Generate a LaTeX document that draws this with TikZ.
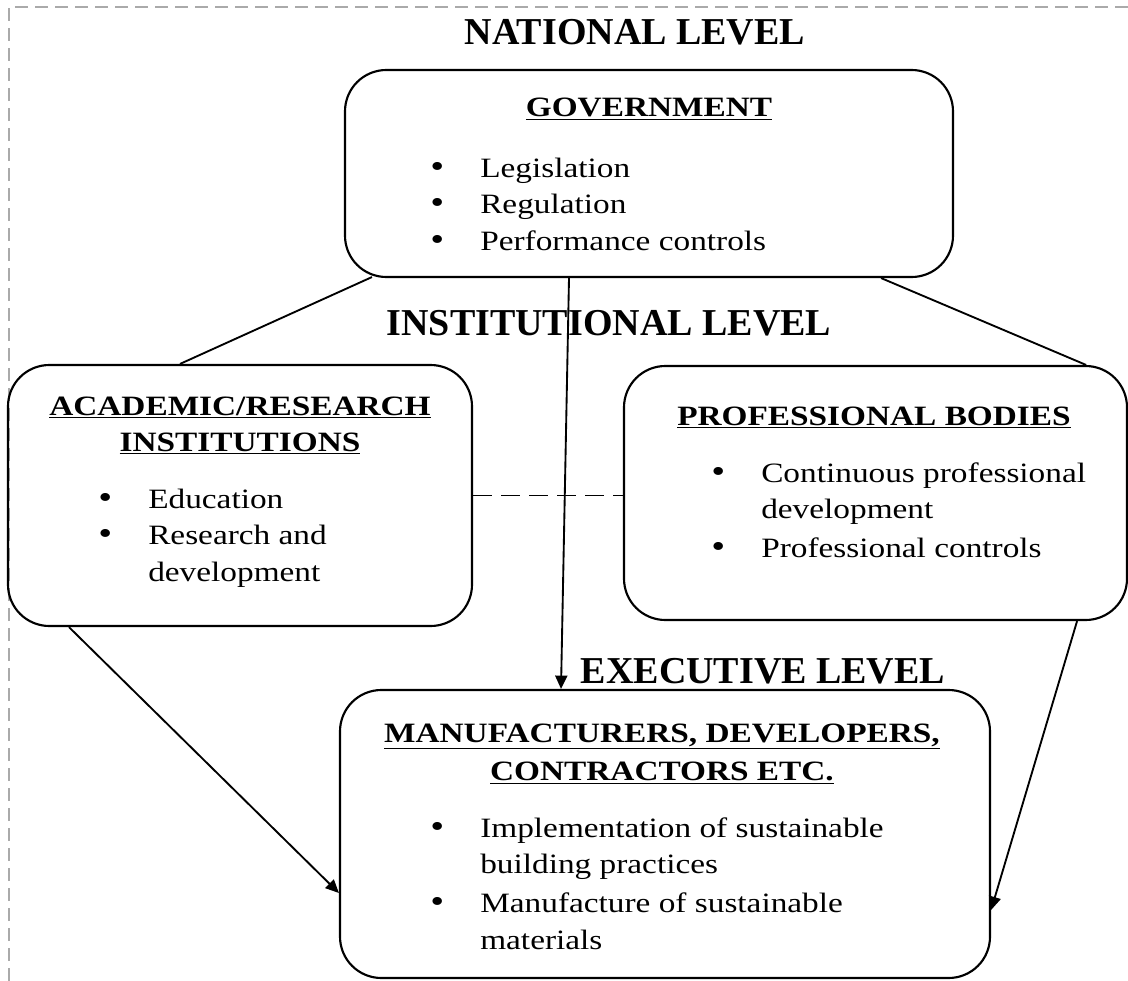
\documentclass[tikz,border=0pt]{standalone}
\usepackage{fontspec}
\setmainfont{Liberation Serif}
\newfontfamily\boxfont{Liberation Serif}[FakeStretch=1.19]
\usetikzlibrary{arrows.meta,calc}

\definecolor{framegray}{HTML}{AAAAAA}
\newcommand{\blt}{{\fontsize{25}{27}\selectfont\textbullet}}

\begin{document}
\begin{tikzpicture}[
  x=0.75pt, y=-0.75pt,
  box/.style 2 args={draw, line width=1.6pt, rounded corners=31pt, inner sep=0pt,
    minimum width=#1*0.75pt, minimum height=#2*0.75pt},
  level/.style={font=\fontsize{28.5}{34}\selectfont\bfseries, inner sep=0pt, anchor=base},
  head/.style={font=\boxfont\fontsize{21}{27.4}\selectfont\bfseries, inner sep=0pt, anchor=base},
  items/.style={font=\boxfont\fontsize{21}{27.4}\selectfont, inner sep=0pt, anchor=base west},
  link/.style={line width=1.4pt},
  arrow/.style={link, -{Triangle[length=10pt,width=9pt]}}
]
  \useasboundingbox (0,0) rectangle (1128,981);
  \draw[framegray, line width=1.5pt, dash pattern=on 10pt off 5pt] (9,981) -- (9,7) -- (1128,7);

  % the three levels
  \node[level] (national)  at (635,45)  {NATIONAL LEVEL};
  \node[level] (institute) at (609,335) {INSTITUTIONAL LEVEL};
  \node[level] (executive) at (763,683) {EXECUTIVE LEVEL};

  % boxes
  \node[box={608}{207}] (gov)  at (649,173.5) {};
  \node[box={464}{261}] (acad) at (240,495.5) {};
  \node[box={503}{254}] (prof) at (875.5,493) {};
  \node[box={650}{288}] (manu) at (665,834)   {};

  % box headings
  \node[head] (govhead)  at (649,117) {\underline{GOVERNMENT}};
  \node[head] (acadhead) at (240,415) {\begin{tabular}[t]{@{}c@{}}\underline{ACADEMIC/RESEARCH}\\ \underline{INSTITUTIONS}\end{tabular}};
  \node[head] (profhead) at (874,425) {\underline{PROFESSIONAL BODIES}};
  \node[head] (manuhead) at (662,742) {\begin{tabular}[t]{@{}c@{}}\underline{MANUFACTURERS, DEVELOPERS,}\\[1.5pt] \underline{CONTRACTORS ETC.}\end{tabular}};

  % bullet lists
  \node[items] (govlist) at (430,177) {\begin{tabular}[t]{@{}p{37.5pt}@{}l@{}}
    \blt & Legislation\\
    \blt & Regulation\\
    \blt & Performance controls\end{tabular}};
  \node[items] (acadlist) at (98,508) {\begin{tabular}[t]{@{}p{37.5pt}@{}l@{}}
    \blt & Education\\
    \blt & Research and\\
         & development\end{tabular}};
  \node[items] (proflist) at (711,482) {\begin{tabular}[t]{@{}p{37.5pt}@{}l@{}}
    \blt & Continuous professional\\
         & development\\[2pt]
    \blt & Professional controls\end{tabular}};
  \node[items] (manulist) at (430,837) {\begin{tabular}[t]{@{}p{37.5pt}@{}l@{}}
    \blt & Implementation of sustainable\\
         & building practices\\[2pt]
    \blt & Manufacture of sustainable\\
         & materials\end{tabular}};

  % connectors
  \draw[link] ($(gov.south west)+(28,-1)$) -- ($(acad.north)+(-60,0)$);
  \draw[link] ($(gov.south east)+(-73,0)$) -- ($(prof.north east)+(-42,0)$);
  \draw[link, dash pattern=on 14pt off 7pt] (acad.east) -- (acad.east -| prof.west);
  \draw[arrow] ($(gov.south)+(-80,0)$) -- ($(manu.north)+(-104,0)$);
  \draw[arrow] ($(acad.south west)+(62,0)$) -- ($(manu.west)+(0,59)$);
  \draw[arrow] ($(prof.south east)+(-51,0)$) -- ($(manu.east)+(0,76)$);
\end{tikzpicture}
\end{document}
